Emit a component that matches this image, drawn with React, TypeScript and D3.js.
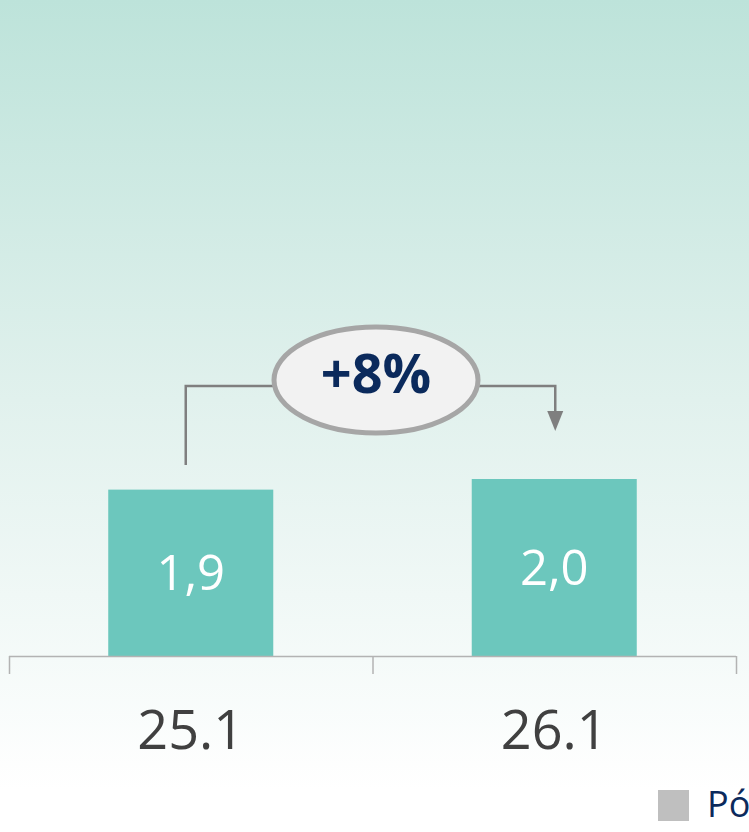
import React from "react";
import * as d3 from "d3";

const categories = ["25.1", "26.1"];
const values = [1.88, 2.0];
const valueLabels = ["1,9", "2,0"];
const changeLabel = "+8%";
const legendLabel = "Pó";

const W = 749;
const H = 832;

export default function App() {
  const x = d3.scaleBand<string>().domain(categories).range([9, 736]).paddingInner(0.546).paddingOuter(0.273);
  const y = d3.scaleLinear().domain([0, 2.0]).range([656, 479]);
  const bw = x.bandwidth();
  const step = x.step();
  const cx = (c: string) => (x(c) as number) + bw / 2;
  const c0 = cx(categories[0]);
  const c1 = cx(categories[1]);
  const lineY = 386;
  const ellCx = 376, ellCy = 380;
  return (
    <svg width={W} height={H} style={{ position: "absolute", left: 0, top: 0 }}>
      <defs>
        <linearGradient id="bg" x1="0" y1="0" x2="0" y2="1">
          <stop offset="0" stopColor="#bde3da" />
          <stop offset="0.48" stopColor="#e1f1ed" />
          <stop offset="0.95" stopColor="#ffffff" />
        </linearGradient>
      </defs>
      <rect x={0} y={0} width={W} height={H} fill="url(#bg)" />
      {categories.map((c, i) => (
        <g key={c}>
          <rect x={x(c)} y={y(values[i])} width={bw} height={y(0) - y(values[i])} fill="#6cc7bd" />
          <text
            x={cx(c)}
            y={(y(values[i]) + y(0)) / 2 + 17}
            textAnchor="middle"
            fill="#ffffff"
            fontFamily="'Open Sans'"
            fontWeight={400}
            fontSize={49}
          >
            {valueLabels[i]}
          </text>
          <text
            x={cx(c)}
            y={749}
            textAnchor="middle"
            fill="#404040"
            fontFamily="'Open Sans'"
            fontSize={54}
          >
            {c}
          </text>
        </g>
      ))}
      {/* axis */}
      <line x1={9} x2={736} y1={656.5} y2={656.5} stroke="#b3b3b3" strokeWidth={1.5} />
      {[0, 1, 2].map((k) => (
        <line key={k} x1={9.5 + k * step} x2={9.5 + k * step} y1={656} y2={674} stroke="#b3b3b3" strokeWidth={1.5} />
      ))}
      {/* connector */}
      <path
        d={`M${c0 - 5},465 V${lineY} H${ellCx} M${ellCx},${lineY} H${c1 + 1} V415`}
        fill="none"
        stroke="#7f7f7f"
        strokeWidth={2.5}
      />
      <path d={`M${c1 + 1 - 8},411 L${c1 + 1 + 8},411 L${c1 + 1},431 Z`} fill="#7f7f7f" />
      <ellipse cx={ellCx} cy={ellCy} rx={102} ry={53} fill="#f2f2f2" stroke="#a6a6a6" strokeWidth={5} />
      <text
        x={ellCx}
        y={ellCy + 13}
        textAnchor="middle"
        fill="#0b2a5c"
        fontFamily="'Open Sans'"
        fontWeight={700}
        fontSize={54}
      >
        {changeLabel}
      </text>
      {/* legend */}
      <rect x={658} y={790} width={31} height={31} fill="#bfbfbf" />
      <text x={707} y={817} fill="#0b2a5c" fontFamily="'Open Sans'" fontSize={36}>
        {legendLabel}
      </text>
    </svg>
  );
}
